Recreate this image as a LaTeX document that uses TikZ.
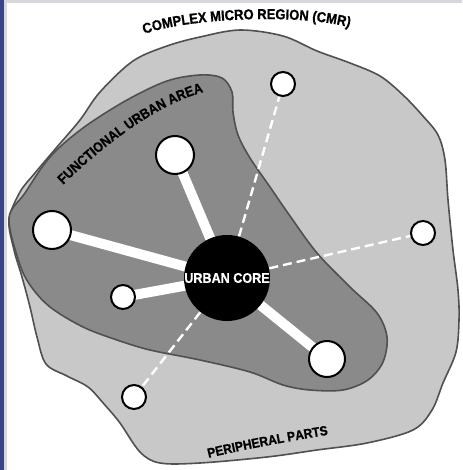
\documentclass[tikz,border=0pt]{standalone}
\usepackage{fontspec}
\setsansfont{Liberation Sans}
\newfontfamily\signfont{Liberation Sans}[FakeStretch=0.9, BoldFeatures={FakeBold=0.8}]
\usepackage{xcolor}
\usepackage{tikz}
\usetikzlibrary{backgrounds, decorations.text}

\definecolor{cmrgray}{HTML}{C8C8C8}
\definecolor{fuagray}{HTML}{8A8A8A}
\definecolor{edgegray}{HTML}{505050}
\definecolor{stripgray}{HTML}{D6D6DC}
\definecolor{sideblue}{HTML}{39438C}

\tikzset{
  region/.style={draw=edgegray, line width=0.8pt},
  town/.style={circle, draw=black, line width=1pt, fill=white, inner sep=0pt},
  core/.style={circle, fill=black, text=white, inner sep=0pt, minimum size=43pt,
    font=\signfont\bfseries\fontsize{7}{8}\selectfont},
  road/.style={white, line width=5pt},
  track/.style={white, line width=1.2pt, dash pattern=on 4.5pt off 2.5pt},
}

\begin{document}
\begin{tikzpicture}[x=0.5pt, y=-0.5pt]
    \useasboundingbox (0,0) rectangle (462,470);

    \node[core] (core) at (227,278) {URBAN CORE};
    \node[town, minimum size=19pt] (north) at (175,155) {};
    \node[town, minimum size=19pt] (west) at (52,230) {};
    \node[town, minimum size=12pt] (inner) at (123,297) {};
    \node[town, minimum size=18pt] (south) at (327,359) {};
    \node[town, minimum size=12pt] (northeast) at (283,84) {};
    \node[town, minimum size=12pt] (east) at (423,233) {};
    \node[town, minimum size=12pt] (southwest) at (134,397) {};

    \begin{scope}[on background layer]
        \fill[white] (0,0) rectangle (462,470);
        \fill[stripgray] (4,0) rectangle (462,3);
        \fill[stripgray] (4,0) rectangle (7,470);
        \fill[sideblue] (0,0) rectangle (4,470);

        % complex micro region
        \draw[region, fill=cmrgray] plot[smooth cycle, tension=0.55] coordinates {
            (240,30) (283,36) (317,51) (350,63) (380,76) (403,95) (422,115)
            (438,135) (445,160) (448,200) (453,250) (458,290) (459,320)
            (456,352) (443,383) (432,410) (413,430) (367,443) (317,450)
            (267,457) (200,463) (160,463) (140,452) (120,423) (104,404)
            (88,387) (67,376) (46,364) (37,337) (30,307) (22,277) (14,250)
            (9,220) (20,192) (35,173) (57,147) (80,120) (100,92) (133,61)
            (167,46) (200,37)};

        % functional urban area
        \draw[region, fill=fuagray] plot[smooth cycle, tension=0.55] coordinates {
            (9,218) (25,193) (50,157) (83,128) (127,100) (167,81) (200,75)
            (222,78) (232,92) (233,112) (238,135) (250,158) (270,187)
            (290,216) (317,253) (350,287) (377,313) (387,337) (383,362)
            (368,380) (343,390) (310,390) (283,385) (250,372) (200,360)
            (150,350) (117,340) (83,327) (50,307) (30,285) (19,262)};

        \draw[road] (core.center) -- (north.center);
        \draw[road] (core.center) -- (west.center);
        \draw[road] (core.center) -- (inner.center);
        \draw[road] (core.center) -- (south.center);
        \draw[track] (core) -- (northeast);
        \draw[track] (core) -- (east);
        \draw[track] (core) -- (southwest);
    \end{scope}

    \path[decorate, decoration={text along path, text align=center,
        text={|\signfont\bfseries\fontsize{7.2}{8}\selectfont|COMPLEX MICRO REGION (CMR)}}]
        (142,35) .. controls (185,18) and (300,13) .. (352,28);
    \path[decorate, decoration={text along path, text align=center,
        text={|\signfont\bfseries\fontsize{7}{8}\selectfont|FUNCTIONAL URBAN AREA}}]
        (60,188) .. controls (95,153) and (155,103) .. (208,91);
    \path[decorate, decoration={text along path, text align=center,
        text={|\signfont\bfseries\fontsize{6.7}{8}\selectfont|PERIPHERAL PARTS}}]
        (204,459) .. controls (245,449) and (290,441) .. (333,434);
\end{tikzpicture}
\end{document}
